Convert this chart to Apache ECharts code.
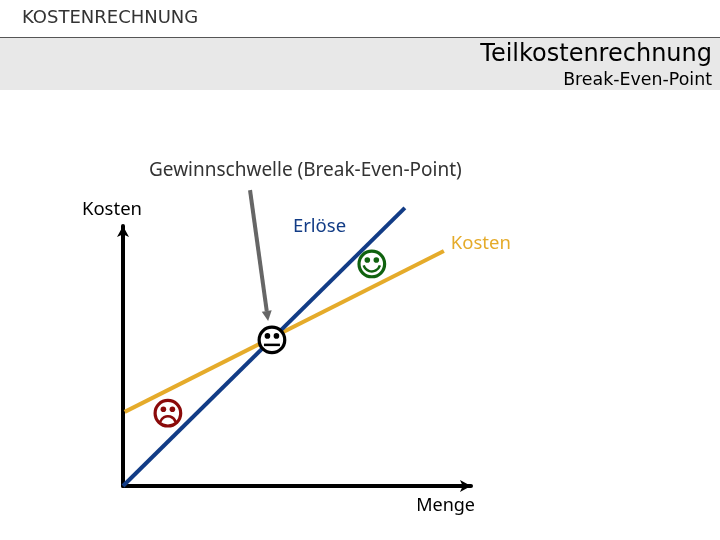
<!DOCTYPE html>
<html>
<head>
<meta charset="utf-8">
<title>Break-Even-Point</title>
<script src="https://cdn.jsdelivr.net/npm/echarts@6/dist/echarts.min.js"></script>
<style>
	html, body { margin: 0; padding: 0; background: #fff; }
	#main { width: 720px; height: 540px; }
</style>
</head>
<body>
<div id="main"></div>
<script>
/* Werte, Achsen jeweils 0-100 */
var erloesePoints = [[0, 0], [81, 107]];
var kostenPoints = [[0.5, 28.5], [92.2, 90.4]];
var arrowPoints = [[36.5, 113.8], [41.7, 63.5]];
var smileyPoints = [[12.9, 28], [42.8, 56.2], [71.5, 85.4]];
var smileyColors = ["#8a0a0a", "#000000", "#10620f"];
var smileyMoods = [-1, 0, 1];

var font = "'DejaVu Sans', sans-serif";
var labelFont = "'Noto Sans', sans-serif";

var renderSmiley = function(params, api){
	var c = api.coord([api.value(0), api.value(1)]);
	var color = smileyColors[params.dataIndex];
	var mood = smileyMoods[params.dataIndex];
	var mouth = null;
	if(mood == 0){
		mouth = { type: "line", shape: { x1: c[0] - 8, y1: c[1] + 5, x2: c[0] + 8, y2: c[1] + 5 }, style: { stroke: color, lineWidth: 2.5, fill: null } };
	}else if(mood > 0){
		mouth = { type: "arc", shape: { cx: c[0], cy: c[1] - 1, r: 8.5, startAngle: 0.3, endAngle: Math.PI - 0.3 }, style: { stroke: color, lineWidth: 2.5, fill: null } };
	}else{
		mouth = { type: "arc", shape: { cx: c[0], cy: c[1] + 11, r: 8, startAngle: Math.PI + 0.3, endAngle: -0.3 }, style: { stroke: color, lineWidth: 2.5, fill: null } };
	}
	return {
		type: "group",
		children: [
			{ type: "circle", shape: { cx: c[0], cy: c[1], r: 12.8 }, style: { fill: "#fff", stroke: color, lineWidth: 3.2 } },
			{ type: "circle", shape: { cx: c[0] - 4.5, cy: c[1] - 4, r: 2.8 }, style: { fill: color } },
			{ type: "circle", shape: { cx: c[0] + 4.5, cy: c[1] - 4, r: 2.8 }, style: { fill: color } },
			mouth
		]
	};
}

/* Pfeilspitze: markLine filtert Punkte ausserhalb der Achse, daher custom */
var renderArrow = function(params, api){
	if(params.dataIndex == 0) return null;
	var from = api.coord(arrowPoints[0]);
	var tip = api.coord(arrowPoints[1]);
	var len = Math.sqrt(Math.pow(tip[0] - from[0], 2) + Math.pow(tip[1] - from[1], 2));
	var ux = (tip[0] - from[0]) / len;
	var uy = (tip[1] - from[1]) / len;
	var bx = tip[0] - ux * 10;
	var by = tip[1] - uy * 10;
	return {
		type: "group",
		children: [
			{ type: "line", shape: { x1: from[0], y1: from[1], x2: bx, y2: by }, style: { stroke: "#666", lineWidth: 4 } },
			{ type: "polygon", shape: { points: [tip, [bx - uy * 5, by + ux * 5], [bx + uy * 5, by - ux * 5]] }, style: { fill: "#666" } }
		]
	};
}

var chart = echarts.init(document.getElementById("main"));

chart.setOption({
	animation: false,
	backgroundColor: "#fff",
	grid: { left: 123, top: 226, width: 348, height: 260 },
	xAxis: {
		type: "value", min: 0, max: 100,
		name: "Menge", nameLocation: "end", nameGap: 4,
		nameTextStyle: { color: "#000", fontFamily: labelFont, fontSize: 18, align: "right", verticalAlign: "top", padding: [11, 0, 0, 0] },
		axisLine: { show: true, symbol: ["none", "arrow"], symbolSize: [9, 11], lineStyle: { color: "#000", width: 4 } },
		axisTick: { show: false }, axisLabel: { show: false }, splitLine: { show: false }
	},
	yAxis: {
		type: "value", min: 0, max: 100,
		name: "Kosten", nameLocation: "end", nameGap: 7,
		nameTextStyle: { color: "#000", fontFamily: labelFont, fontSize: 18.5, align: "center", verticalAlign: "bottom", padding: [0, 22, 0, 0] },
		axisLine: { show: true, symbol: ["none", "arrow"], symbolSize: [9, 11], lineStyle: { color: "#000", width: 4 } },
		axisTick: { show: false }, axisLabel: { show: false }, splitLine: { show: false }
	},
	series: [
		{
			type: "line", data: kostenPoints, clip: false, showSymbol: false,
			lineStyle: { color: "#e5ab2a", width: 4 },
			endLabel: { show: true, formatter: "Kosten", color: "#e5ab2a", fontFamily: labelFont, fontSize: 18.5, offset: [-1, -7] }
		},
		{
			type: "line", data: erloesePoints, clip: false, showSymbol: false,
			lineStyle: { color: "#123c86", width: 4 },
			endLabel: { show: true, position: "left", formatter: "Erlöse", color: "#123c86", fontFamily: labelFont, fontSize: 18.5, offset: [-120, 19] }
		},
		{
			type: "custom", coordinateSystem: "cartesian2d", clip: false,
			renderItem: renderArrow,
			data: arrowPoints
		},
		{
			type: "custom", coordinateSystem: "cartesian2d", clip: false,
			renderItem: renderSmiley,
			data: smileyPoints, z: 5
		}
	],
	graphic: [
		{ type: "rect", z: -1, shape: { x: 0, y: 38, width: 720, height: 52 }, style: { fill: "#e8e8e8" } },
		{ type: "rect", z: -1, shape: { x: 0, y: 37, width: 720, height: 1 }, style: { fill: "#555" } },
		{ type: "text", x: 22, y: 18, style: { text: "KOSTENRECHNUNG", font: "18px " + font, fill: "#333", verticalAlign: "middle" } },
		{ type: "text", x: 712, y: 55, style: { text: "Teilkostenrechnung", font: "24px " + font, fill: "#000", align: "right", verticalAlign: "middle" } },
		{ type: "text", x: 712, y: 80, style: { text: "Break-Even-Point", font: "17.4px " + font, fill: "#000", align: "right", verticalAlign: "middle" } },
		{ type: "text", x: 149, y: 171, style: { text: "Gewinnschwelle (Break-Even-Point)", font: "19px " + labelFont, fill: "#333", verticalAlign: "middle" } }
	]
});
</script>
</body>
</html>
